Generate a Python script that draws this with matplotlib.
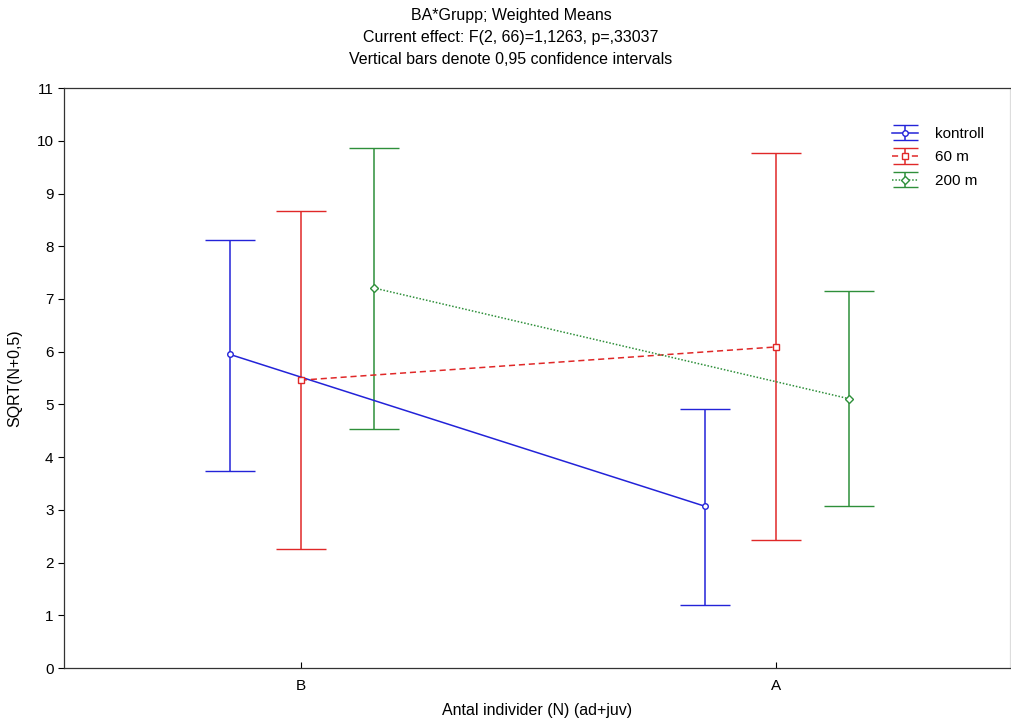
import matplotlib.pyplot as plt
import numpy as np

plt.rcParams['font.family'] = ['Liberation Sans', 'DejaVu Sans']

categories = ['B', 'A']
groups = ['kontroll', '60 m', '200 m']

means = {
    'kontroll': [5.95, 3.07],
    '60 m': [5.46, 6.09],
    '200 m': [7.21, 5.11],
}
lower = {
    'kontroll': [3.74, 1.19],
    '60 m': [2.26, 2.42],
    '200 m': [4.53, 3.07],
}
upper = {
    'kontroll': [8.12, 4.92],
    '60 m': [8.67, 9.77],
    '200 m': [9.86, 7.15],
}

colors = {'kontroll': '#2323d8', '60 m': '#e02828', '200 m': '#2e8f3a'}
styles = {'kontroll': '-', '60 m': (0, (4, 2.5)), '200 m': (0, (1, 1.2))}
markers = {'kontroll': 'o', '60 m': 's', '200 m': 'D'}
msizes = {'kontroll': 4, '60 m': 5, '200 m': 4}
offsets = {'kontroll': -0.15, '60 m': 0.0, '200 m': 0.153}

fig = plt.figure(figsize=(10.12, 7.28), dpi=100)
ax = fig.add_axes([0.0632, 0.0824, 0.9348, 0.7966])

x = np.arange(len(categories))
handles = []
for g in groups:
    m = np.array(means[g])
    lo = m - np.array(lower[g])
    hi = np.array(upper[g]) - m
    xs = x + offsets[g]
    c = colors[g]
    eb = ax.errorbar(xs, m, yerr=[lo, hi], color=c, linestyle=styles[g], lw=1.1,
                     marker=markers[g], ms=msizes[g], mfc='white', mec=c, mew=1.0,
                     ecolor=c, elinewidth=1.1, capsize=18, capthick=1.1)
    eb[2][0].set_linestyle('-')
    # proxy with small caps for the legend
    pr = ax.errorbar([np.nan], [np.nan], yerr=[[np.nan], [np.nan]], color=c,
                     linestyle=styles[g], lw=1.1, marker=markers[g], ms=msizes[g],
                     mfc='white', mec=c, mew=1.0, ecolor=c, elinewidth=1.1,
                     capsize=9, capthick=1.1, label=g)
    pr[2][0].set_linestyle('-')
    handles.append(pr)

leg = ax.legend(handles, groups, loc='upper left',
                bbox_to_anchor=(892 / 1012, (728 - 127) / 728),
                bbox_transform=fig.transFigure, frameon=False, fontsize=11,
                handlelength=1.7, handletextpad=1.1, labelspacing=0.62,
                borderpad=0, borderaxespad=0)

ax.set_xlim(-0.499, 1.493)
ax.set_ylim(0, 11)
ax.set_xticks(x)
ax.set_xticklabels(categories)
ax.set_yticks(range(0, 12))
ax.tick_params(axis='x', direction='in', length=4, labelsize=11, pad=8)
ax.tick_params(axis='y', direction='out', length=4, labelsize=11)
for s in ax.spines.values():
    s.set_linewidth(0.9)
    s.set_color('#333333')
ax.spines['right'].set_color('#dddddd')

ax.set_xlabel('Antal individer (N) (ad+juv)', fontsize=11.5, labelpad=7)
ax.set_ylabel('SQRT(N+0,5)', fontsize=11.5, labelpad=10)

fig.text(0.505, 0.979, 'BA*Grupp; Weighted Means', ha='center', va='center', fontsize=11.5)
fig.text(0.505, 0.949, 'Current effect: F(2, 66)=1,1263, p=,33037', ha='center', va='center', fontsize=11.5)
fig.text(0.505, 0.918, 'Vertical bars denote 0,95 confidence intervals', ha='center', va='center', fontsize=11.5)

fig.savefig('out.png', dpi=100)
